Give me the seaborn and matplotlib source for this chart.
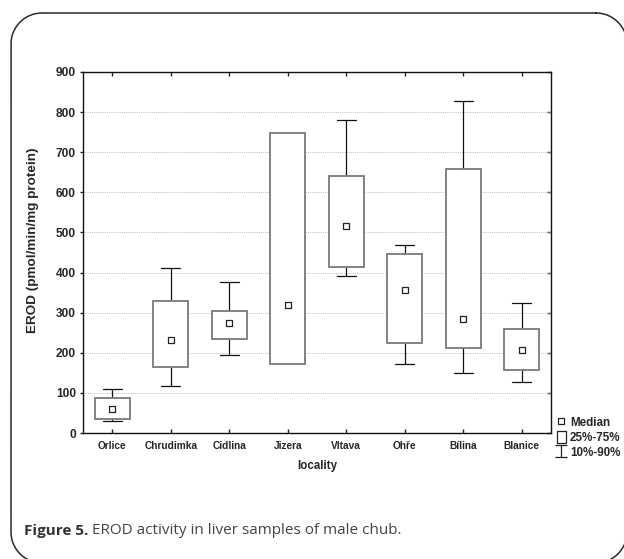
import numpy as np
import pandas as pd
import matplotlib
matplotlib.use("Agg")
import matplotlib.pyplot as plt
import seaborn as sns
from matplotlib.patches import Patch
from matplotlib.lines import Line2D
from matplotlib.path import Path

# ---- data ----
localities = ["Orlice", "Chrudimka", "Cidlina", "Jizera", "Vltava", "Ohře", "Bílina", "Blanice"]
p10 = [31, 118, 195, 172, 391, 173, 149, 127]
q25 = [36, 164, 234, 172, 413, 224, 211, 157]
median = [61, 232, 274, 320, 517, 357, 284, 208]
q75 = [87, 328, 305, 749, 640, 446, 657, 259]
p90 = [109, 411, 376, 749, 781, 468, 828, 325]
yticks = [0, 100, 200, 300, 400, 500, 600, 700, 800, 900]

sns.set_style("white")
plt.rcParams["font.family"] = ["Liberation Sans", "DejaVu Sans"]

W, H = 624, 559
fig = plt.figure(figsize=(W / 100, H / 100), dpi=100)

# background frame (rounded rectangle) in pixel units, y downward
bg = fig.add_axes([0, 0, 1, 1], zorder=-5)
bg.set_xlim(0, W)
bg.set_ylim(H, 0)
bg.axis("off")


def rounded_rect(x0, y0, x1, y1, r, n=40):
    pts = []
    corners = [((x1 - r, y0 + r), -90, 0), ((x1 - r, y1 - r), 0, 90),
               ((x0 + r, y1 - r), 90, 180), ((x0 + r, y0 + r), 180, 270)]
    for (cx, cy), a0, a1 in corners:
        t = np.radians(np.linspace(a0, a1, n))
        pts.extend(zip(cx + r * np.cos(t), cy + r * np.sin(t)))
    pts.append(pts[0])
    return np.array(pts)


fr = rounded_rect(11, 13, 627, 563, 31)
bg.plot(fr[:, 0], fr[:, 1], color="#2a2a2a", linewidth=1.1, solid_joinstyle="round")

ax = fig.add_axes([83 / W, 1 - 433 / H, (551 - 83) / W, (433 - 72) / H])

stats = []
for i, name in enumerate(localities):
    stats.append(dict(label=name, whislo=p10[i], q1=q25[i], med=median[i],
                      q3=q75[i], whishi=p90[i], fliers=[]))

pos = np.arange(len(localities))
res = ax.bxp(stats, positions=pos, widths=0.6, showfliers=False, patch_artist=True,
             boxprops=dict(facecolor="white", edgecolor="#7a7a7a", linewidth=1.3),
             whiskerprops=dict(color="#111111", linewidth=0.9),
             capprops=dict(color="#111111", linewidth=0.9),
             medianprops=dict(linewidth=0), capwidths=0.32)
for b in res["boxes"]:
    b.set_zorder(3)
for i in range(len(localities)):
    if p10[i] == q25[i]:
        res["caps"][2 * i].set_visible(False)
    if p90[i] == q75[i]:
        res["caps"][2 * i + 1].set_visible(False)

df = pd.DataFrame({"locality": pos, "median": median})
sns.scatterplot(data=df, x="locality", y="median", marker="s", s=16,
                facecolor="white", edgecolor="#222222", linewidth=0.9, ax=ax, zorder=4)

ax.set_xlim(-0.5, len(localities) - 0.5)
ax.set_ylim(0, 900)
ax.set_yticks(yticks)
ax.set_xticks(pos)
ax.set_xticklabels(localities)
ax.yaxis.grid(True, linestyle=(0, (1, 1.2)), color="#bdbdbd", linewidth=0.7)
ax.set_axisbelow(True)

for s in ax.spines.values():
    s.set_color("#111111")
    s.set_linewidth(1.0)

ax.tick_params(axis="y", left=True, right=False, direction="out", length=2,
               width=1.0, color="#222222", labelsize=8.6, pad=3)
ax.tick_params(axis="x", bottom=True, top=False, direction="in", length=3,
               width=1.0, color="#222222", labelsize=7.3, pad=6)
for lab in ax.get_xticklabels() + ax.get_yticklabels():
    lab.set_fontweight("bold")

# inward ticks on the right and top
sy = ax.secondary_yaxis("right")
sy.set_yticks(yticks)
sy.tick_params(direction="in", length=3, width=1.0, color="#222222", labelright=False)
sy.spines["right"].set_visible(False)
sx = ax.secondary_xaxis("top")
sx.set_xticks(pos)
sx.tick_params(direction="in", length=3, width=1.0, color="#222222", labeltop=False)
sx.spines["top"].set_visible(False)

ax.set_xlabel("locality", fontsize=8.3, fontweight="bold", labelpad=6)
ax.set_ylabel("EROD (pmol/min/mg protein)", fontsize=9.7, fontweight="bold")
ax.yaxis.set_label_coords(-0.093, 0.535)

# legend
ibeam = Path([(-1, 1), (1, 1), (0, 1), (0, -1), (-1, -1), (1, -1)],
             [Path.MOVETO, Path.LINETO, Path.MOVETO, Path.LINETO, Path.MOVETO, Path.LINETO])
handles = [
    Line2D([], [], marker="s", ls="none", markersize=4.2, markerfacecolor="white",
           markeredgecolor="#222222", markeredgewidth=0.9),
    Patch(facecolor="white", edgecolor="#222222", linewidth=0.9),
    Line2D([], [], marker=ibeam, ls="none", markersize=8, markerfacecolor="none",
           markeredgecolor="#222222", markeredgewidth=0.9),
]
leg = fig.legend(handles, ["Median", "25%-75%", "10%-90%"], loc="upper left",
                 bbox_to_anchor=(557 / W, 1 - 416 / H), frameon=False,
                 prop=dict(family="Liberation Sans", weight="bold", size=8.4),
                 handlelength=0.75, handleheight=1.2, handletextpad=0.35,
                 labelspacing=0.2, borderpad=0, borderaxespad=0)

# caption
cap_y = 1 - 531 / H
t1 = fig.text(24 / W, cap_y, "Figure 5.", fontsize=11.0, fontweight="bold",
              family="Open Sans", color="#333333", va="center", ha="left")
fig.canvas.draw()
bb = t1.get_window_extent()
fig.text((bb.x1 + 4) / W, cap_y, "EROD activity in liver samples of male chub.",
         fontsize=11.0, family="Open Sans", color="#444444", va="center", ha="left")

fig.savefig("out.png", dpi=100)
